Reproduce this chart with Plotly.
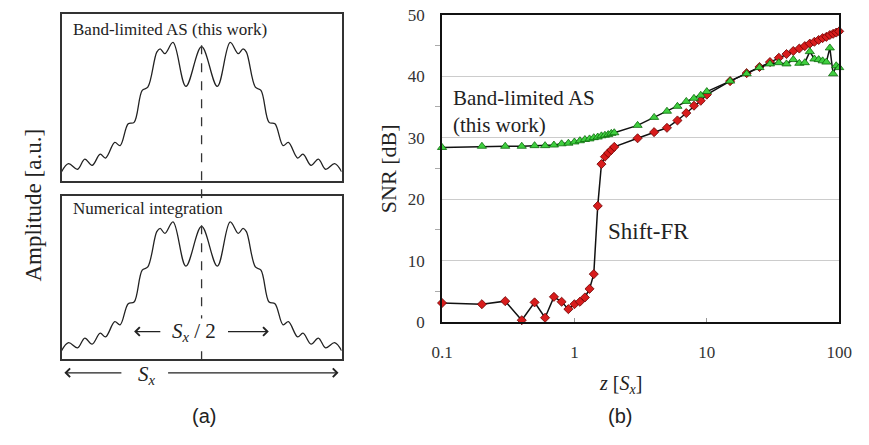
import plotly.graph_objects as go

# ---------------- Panel (a): amplitude profiles (key points)
pos_a = [-0.5, -0.475, -0.443, -0.417, -0.391, -0.362, -0.343, -0.310, -0.291,
         -0.262, -0.241, -0.212, -0.192, -0.160, -0.148, -0.131, -0.102, -0.056,
         0.0,
         0.056, 0.102, 0.131, 0.148, 0.160, 0.192, 0.212, 0.241, 0.262,
         0.291, 0.310, 0.343, 0.362, 0.391, 0.417, 0.443, 0.475, 0.5]
amp_blas = [0.057, 0.105, 0.072, 0.133, 0.095, 0.162, 0.139, 0.232, 0.213,
            0.343, 0.352, 0.543, 0.562, 0.771, 0.790, 0.762, 0.829, 0.567,
            0.804,
            0.567, 0.829, 0.762, 0.790, 0.771, 0.562, 0.543, 0.352, 0.343,
            0.213, 0.232, 0.139, 0.162, 0.095, 0.133, 0.072, 0.105, 0.057]
amp_numint = [0.053, 0.102, 0.070, 0.130, 0.093, 0.160, 0.137, 0.230, 0.211,
              0.340, 0.350, 0.545, 0.565, 0.780, 0.800, 0.770, 0.840, 0.570,
              0.812,
              0.570, 0.840, 0.770, 0.800, 0.780, 0.565, 0.545, 0.350, 0.340,
              0.211, 0.230, 0.137, 0.160, 0.093, 0.130, 0.070, 0.102, 0.053]

# ---------------- Panel (b): SNR vs propagation distance
z_vals = [0.1, 0.2, 0.3, 0.4, 0.5, 0.6, 0.7, 0.8, 0.9,
          1.0, 1.1, 1.2, 1.3, 1.4, 1.5, 1.6, 1.7, 1.8, 1.9, 2.0,
          3, 4, 5, 6, 7, 8, 9, 10,
          15, 20, 25, 30, 35, 40, 45, 50, 55, 60, 65, 70, 75, 80, 85, 90, 95, 100]
snr_shift_fr = [3.1, 2.9, 3.4, 0.3, 3.2, 0.7, 4.1, 3.3, 2.1,
                2.9, 3.3, 4.0, 5.4, 7.8, 18.9, 25.7, 26.9, 27.5, 28.0, 28.5,
                29.9, 30.9, 31.6, 32.8, 34.0, 35.2, 36.0, 37.0,
                39.2, 40.5, 41.5, 42.3, 43.0, 43.6, 44.1, 44.5, 44.9, 45.3, 45.6,
                45.9, 46.2, 46.4, 46.7, 46.9, 47.1, 47.3]
snr_blas = [28.4, 28.6, 28.6, 28.6, 28.7, 28.7, 28.8, 29.0, 29.1,
            29.3, 29.5, 29.7, 29.8, 30.0, 30.1, 30.3, 30.4, 30.5, 30.7, 30.8,
            32.0, 33.3, 34.3, 35.1, 35.9, 36.4, 36.9, 37.5,
            39.2, 40.4, 41.4, 42.0, 42.2, 42.0, 42.7, 42.1, 42.2, 44.0, 42.8,
            42.7, 42.5, 42.3, 44.6, 40.4, 41.7, 41.4]
y_ticks = [0, 10, 20, 30, 40, 50]
x_ticks = [0.1, 1, 10, 100]
x_ticktext = ["0.1", "1", "10", "100"]

W, H = 869, 445
def px(x): return x / W
def py(y): return 1 - y / H

SERIF = "Liberation Serif, Times New Roman, serif"
SANS = "Liberation Sans, Arial, sans-serif"
TXT = "#222222"

fig = go.Figure()
fig.add_trace(go.Scatter(x=pos_a, y=amp_blas, mode="lines", xaxis="x", yaxis="y",
                         line=dict(color="#222", width=1.3, shape="spline", smoothing=1.0),
                         showlegend=False, hoverinfo="skip"))
fig.add_trace(go.Scatter(x=pos_a, y=amp_numint, mode="lines", xaxis="x2", yaxis="y2",
                         line=dict(color="#222", width=1.3, shape="spline", smoothing=1.0),
                         showlegend=False, hoverinfo="skip"))
fig.add_trace(go.Scatter(x=z_vals, y=snr_shift_fr, mode="lines+markers", xaxis="x3", yaxis="y3",
                         line=dict(color="#111", width=1.5),
                         marker=dict(symbol="diamond", size=7, color="#d81c1c",
                                     line=dict(color="#6a0000", width=0.8)),
                         cliponaxis=False, showlegend=False))
fig.add_trace(go.Scatter(x=z_vals, y=snr_blas, mode="lines+markers", xaxis="x3", yaxis="y3",
                         line=dict(color="#111", width=1.5),
                         marker=dict(symbol="triangle-up", size=8, color="#3fcf3f",
                                     line=dict(color="#0b6a0b", width=0.8)),
                         cliponaxis=False, showlegend=False))

box_ax = dict(showline=True, mirror=True, linecolor="#333", linewidth=1.5,
              showticklabels=False, showgrid=False, zeroline=False, ticks="")

fig.update_layout(
    width=W, height=H, margin=dict(l=0, r=0, t=0, b=0),
    paper_bgcolor="white", plot_bgcolor="white",
    xaxis=dict(domain=[px(52), px(340)], range=[-0.5, 0.5], anchor="y", **box_ax),
    yaxis=dict(domain=[py(180), py(5)], range=[0, 1], anchor="x", **box_ax),
    xaxis2=dict(domain=[px(52), px(340)], range=[-0.5, 0.5], anchor="y2", **box_ax),
    yaxis2=dict(domain=[py(366), py(195)], range=[0, 1], anchor="x2", **box_ax),
    xaxis3=dict(domain=[px(443.3), px(851.7)], type="log", range=[-1, 2], anchor="y3",
                tickvals=x_ticks, ticktext=x_ticktext, ticks="inside", ticklen=4,
                tickcolor="#999", showline=True, mirror=True, linecolor="#111",
                linewidth=2, showgrid=False, zeroline=False,
                tickfont=dict(family=SERIF, size=17, color="#333"),
                ticklabelstandoff=14, ticklabeloverflow="allow"),
    yaxis3=dict(domain=[py(327), py(6)], range=[0, 50], anchor="x3",
                tickvals=y_ticks, ticks="", showline=True, mirror=True,
                linecolor="#111", linewidth=2, showgrid=True, gridcolor="#cccccc",
                gridwidth=1, zeroline=False,
                minor=dict(tickvals=[5, 15, 25, 35, 45], ticks="outside", ticklen=5,
                           tickcolor="#aaa", showgrid=False),
                tickfont=dict(family=SERIF, size=17, color="#333"),
                ticklabelstandoff=12, ticklabeloverflow="allow"),
)

# centre dashed line of panel (a)
fig.add_shape(type="line", xref="x", yref="paper", x0=0, x1=0, y0=py(367), y1=py(28),
              line=dict(color="#333", width=1.3, dash="dash"))

ann = []
def text(x, y, s, size, family=SERIF, xanchor="center", angle=0, bg=None, align="center"):
    d = dict(x=px(x), y=py(y), xref="paper", yref="paper", text=s, showarrow=False,
             xanchor=xanchor, yanchor="middle", textangle=angle, align=align,
             font=dict(family=family, size=size, color=TXT))
    if bg:
        d["bgcolor"] = bg
        d["borderpad"] = 0
    ann.append(d)

text(63, 21.5, "Band-limited AS (this work)", 17, xanchor="left", bg="white")
text(63, 208, "Numerical integration", 17, xanchor="left", bg="white")
text(23, 205, "Amplitude [a.u.]", 23, angle=-90)
text(188, 337, "<i>S</i><sub><i>x</i></sub> / 2", 21, bg="white")
text(140, 382, "<i>S</i><sub><i>x</i></sub>", 21)
text(198, 425, "(a)", 20, family=SANS)

text(453, 107, "Band-limited AS<br>(this work)", 21, xanchor="left", align="left")
text(612, 232, "Shift-FR", 23, xanchor="left")
text(389, 167, "SNR [dB]", 22, angle=-90)
text(627, 392, "<i>z</i> [<i>S</i><sub><i>x</i></sub>]", 20)
text(626, 425, "(b)", 20, family=SANS)

def arrow(head_x, tail_x, xref, y, yref):
    ann.append(dict(x=head_x, y=y, xref=xref, yref=yref, ax=tail_x, ay=0,
                    axref=xref, ayref="pixel", text="", showarrow=True,
                    arrowhead=4, arrowsize=1.3, arrowwidth=1.3, arrowcolor="#222",
                    standoff=0, startstandoff=0))

arrow(-0.241, -0.142, "x2", 0.17, "y2")
arrow(0.240, 0.089, "x2", 0.17, "y2")
arrow(-0.490, -0.281, "x2", py(380), "paper")
arrow(0.489, -0.125, "x2", py(380), "paper")

fig.update_layout(annotations=ann)

fig.write_html("out.html", config={"displayModeBar": False},
               post_script="document.body.style.margin='0';document.body.style.overflow='hidden';")
